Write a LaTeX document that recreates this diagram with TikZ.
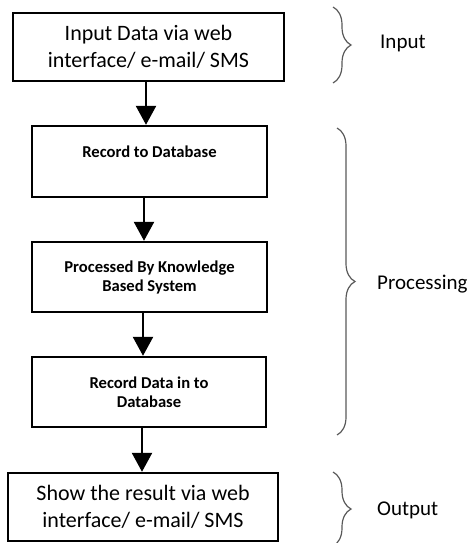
\documentclass[tikz,border=0pt]{standalone}
\usepackage{fontspec}
\setmainfont{Carlito}
\usetikzlibrary{arrows.meta}
\usetikzlibrary{decorations.pathreplacing}

\begin{document}
\begin{tikzpicture}[x=1pt,y=-1pt,
    bigbox/.style={draw=black,line width=2.4pt,minimum width=271pt,minimum height=68pt,
        align=center,inner sep=0pt,font=\fontsize{22}{27}\selectfont},
    smallbox/.style={draw=black,line width=2.4pt,minimum width=235pt,minimum height=70pt,
        align=center,inner sep=0pt,font=\bfseries\fontsize{16.6}{19}\selectfont},
    sidelabel/.style={anchor=west,inner sep=0pt,font=\fontsize{21}{25}\selectfont},
    flow/.style={-{Triangle[width=20pt,length=19pt]},line width=2.4pt},
    bracket/.style={decorate,decoration={brace,amplitude=18pt},line width=1.2pt,draw=black!65}]
    \useasboundingbox (0,0) rectangle (475,543);

    \node[bigbox] (input) at (148.5, 47) {Input Data via web\\interface/ e-mail/ SMS};
    \node[smallbox, minimum height=71pt] (record) at (149.5, 161.5) {Record to Database\\ \mbox{}};
    \node[smallbox] (kbs) at (149.5, 277) {Processed By Knowledge\\Based System};
    \node[smallbox, minimum width=234pt] (store) at (149, 392) {Record Data in to\\Database};
    \node[bigbox, minimum width=270pt] (output) at (143, 507) {Show the result via web\\interface/ e-mail/ SMS};

    \path [flow] ([xshift=-2.5pt]input.south) edge ([xshift=-2.5pt]input.south |- record.north);
    \path [flow] ([xshift=-5.5pt]record.south) edge ([xshift=-5.5pt]record.south |- kbs.north);
    \path [flow] ([xshift=-6.5pt]kbs.south) edge ([xshift=-6.5pt]kbs.south |- store.north);
    \path [flow] ([xshift=-7pt]store.south) edge ([xshift=-7pt]store.south |- output.north);

    % braces on the right
    \coordinate (inTop) at (333, 7);
    \coordinate (inBot) at (333, 83);
    \coordinate (prTop) at (337, 128);
    \coordinate (prBot) at (337, 435);
    \coordinate (ouTop) at (333, 472);
    \coordinate (ouBot) at (333, 546);
    \draw[bracket] (inTop) -- (inBot);
    \draw[bracket] (prTop) -- (prBot);
    \draw[bracket] (ouTop) -- (ouBot);

    \node[sidelabel] (inLabel) at (380, 43) {Input};
    \node[sidelabel] (prLabel) at (377, 284) {Processing};
    \node[sidelabel] (ouLabel) at (377, 510) {Output};
\end{tikzpicture}
\end{document}
